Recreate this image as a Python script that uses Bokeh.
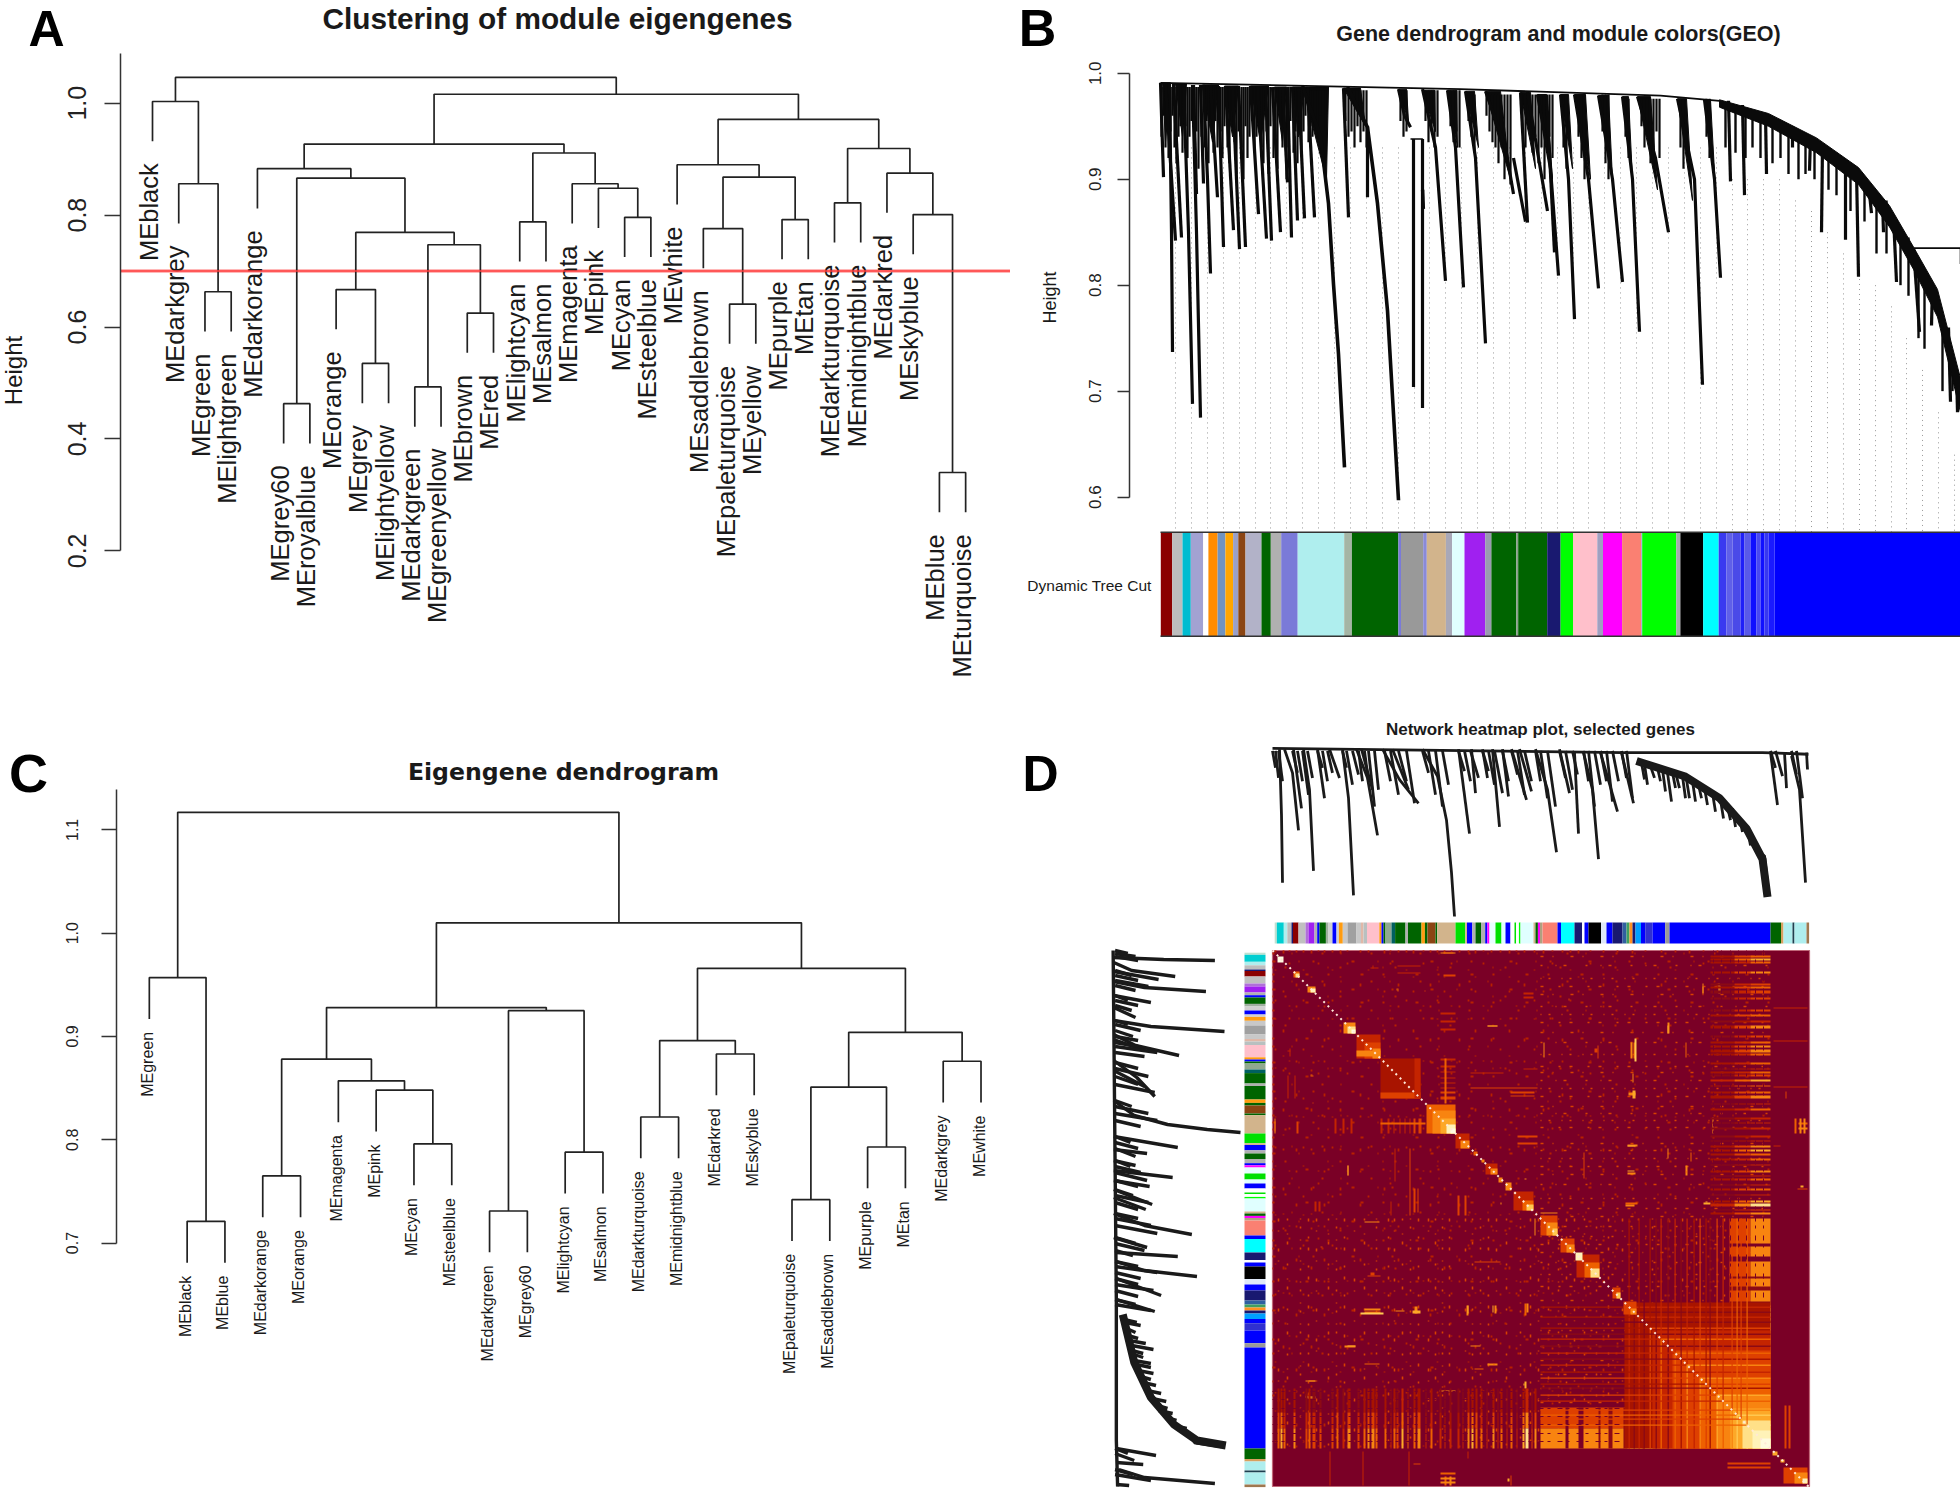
from math import pi
from bokeh.plotting import figure
from bokeh.layouts import row, column
from bokeh.models import LinearAxis, FixedTicker, Label, ColumnDataSource, Range1d, NumeralTickFormatter
from bokeh.core.properties import value
from bokeh.transform import linear_cmap
from bokeh.embed import file_html
from bokeh.resources import INLINE

FONT = "Liberation Sans"

# ---------- Panel A ----------
a_leaves = ["MEblack","MEdarkgrey","MEgreen","MElightgreen","MEdarkorange","MEgrey60","MEroyalblue","MEorange",
            "MEgrey","MElightyellow","MEdarkgreen","MEgreenyellow","MEbrown","MEred","MElightcyan","MEsalmon",
            "MEmagenta","MEpink","MEcyan","MEsteelblue","MEwhite","MEsaddlebrown","MEpaleturquoise","MEyellow",
            "MEpurple","MEtan","MEdarkturquoise","MEmidnightblue","MEdarkred","MEskyblue","MEblue","MEturquoise"]
a_left   = [-31,-6,-11,-9,-13,-23,-3,-8,3,8,-22,-15,-25,-19,-30,-27,-18,-2,-17,2,11,-29,-5,-21,12,16,23,24,-1,27,29]
a_right  = [-32,-7,-12,-10,-14,-24,-4,4,5,9,6,-16,-26,-20,1,-28,14,7,17,10,13,15,20,21,19,22,25,26,18,28,30]
a_height = [.340,.463,.493,.535,.625,.641,.663,.667,.747,.769,.776,.788,.792,.796,.801,.822,.848,.856,.856,.866,
            .868,.875,.883,.890,.911,.919,.927,.971,1.003,1.016,1.046]
a_ticks = [0.2,0.4,0.6,0.8,1.0]
a_cut = 0.70

# ---------- Panel C ----------
c_leaves = ["MEgreen","MEblack","MEblue","MEdarkorange","MEorange","MEmagenta","MEpink","MEcyan","MEsteelblue",
            "MEdarkgreen","MEgrey60","MElightcyan","MEsalmon","MEdarkturquoise","MEmidnightblue","MEdarkred",
            "MEskyblue","MEpaleturquoise","MEsaddlebrown","MEpurple","MEtan","MEdarkgrey","MEwhite"]
c_left   = [-2,-10,-18,-4,-12,-20,-8,-14,-7,3,-6,-22,4,-16,8,10,2,13,-1,15,18,19]
c_right  = [-3,-11,-19,-5,-13,-21,-9,-15,7,6,9,-23,11,-17,14,12,5,17,1,16,20,21]
c_height = [.721,.731,.742,.765,.788,.793,.796,.822,.848,.851,.857,.876,.878,.883,.896,.904,.925,.928,.957,.966,1.010,1.117]
c_ticks = [0.7,0.8,0.9,1.0,1.1]

# ---------- Panel B (gene order 0-800, merge height) ----------
b_top_g = [0,100,300,500,559]
b_top_h = [.991,.989,.985,.979,.974]
b_curve_g = [559,608,656,698,729,753,777,800,800,777,753,729,698,656,608,559]
b_curve_h = [.975,.962,.939,.911,.875,.836,.796,.712,.680,.770,.815,.855,.895,.925,.950,.968]
b_mass_g = [[2,10,5],[15,26,22],[42,58,52],[64,78,72],[90,108,100],[114,126,122],[132,144,138],[142,168,166],[183,200,205],[238,246,248],[262,274,275],
            [287,296,297],[305,314,318],[325,340,350],[360,370,375],[377,386,392],[400,408,412],[414,425,430],[438,448,452],[462,468,472],[477,490,497],
            [517,526,532],[544,550,555]]
b_mass_h = [[.991,.991,.935],[.99,.99,.94],[.989,.989,.935],[.988,.988,.94],[.988,.988,.935],[.987,.987,.935],[.987,.987,.94],[.987,.987,.90],[.986,.986,.95],
            [.985,.985,.955],[.984,.984,.945],[.984,.984,.93],[.983,.983,.93],[.983,.983,.90],[.982,.982,.91],[.98,.98,.90],[.98,.98,.91],[.98,.98,.90],
            [.979,.979,.90],[.978,.978,.90],[.978,.978,.89],[.976,.976,.88],[.975,.975,.89]]
b_branch_g = [[0,3],[9,11,12],[5,15],[13,21],[23,28,32],[32,36,40],[33,36],[40,43],[43,47,50],[50,57],[58,63],[65,73],
  [72,79],[78,85],[90,98],[97,106],[105,111],[112,120],[122,127],[127,131],[132,137],[138,144],[147,154],
  [183,188],[207,207],[238,244,250],[253,253],[262,262],[262,263],[262,275,285],[287,295,303],[305,315,325],
  [325,345,353],[353,365],[360,367],[367,387],[377,390,398],[386,394],[400,408,414],[414,428,438],[438,452,462],
  [462,472,479],[477,495,508],[517,534,542],[544,554,560],[568,570],[582,584],[605,606],[632,632],[650,649],
  [662,661],[685,685],[696,698],[708,711],[722,723],[733,736],[753,759],[772,771],[788,790],[796,797]]
b_branch_h = [[.991,.902],[.990,.85,.737],[.990,.842],[.990,.845],[.989,.85,.688],[.989,.85,.675],[.989,.886],[.989,.896],[.989,.90,.811],
  [.989,.883],[.988,.836],[.988,.852],[.988,.834],[.988,.836],[.988,.867],[.988,.844],[.987,.842],[.987,.850],
  [.987,.897],[.987,.845],[.987,.861],[.986,.863],[.986,.864],
  [.986,.864],[.95,.883],[.985,.96,.949],[.938,.704],[.938,.684],[.89,.872],[.985,.93,.804],[.984,.93,.798],[.983,.92,.745],
  [.983,.93,.886],[.92,.860],[.982,.859],[.982,.87],[.98,.91,.809],[.98,.831],[.98,.90,.768],[.98,.90,.797],[.979,.90,.803],
  [.978,.90,.756],[.978,.92,.850],[.976,.90,.706],[.975,.90,.807],[.974,.898],[.97,.885],[.962,.905],[.95,.930],[.94,.908],
  [.932,.850],[.915,.843],[.908,.808],[.895,.868],[.88,.850],[.865,.803],[.835,.756],[.80,.762],[.76,.690],[.72,.680]]
b_main_g = [[142,160,168,173,178,184],[187,207,217,227,238]]
b_main_h = [[.988,.94,.877,.801,.735,.628],[.987,.949,.877,.776,.597]]
b_box_g = [[250,253,262,262],[753,800,800],[262,263,263]]
b_box_h = [[.938,.938,.938,.89],[.835,.835,.82],[.89,.89,.872]]
b_stub_g = [1,3,5,7,8,10,12,14,16,18,20,22,25,27,29,31,34,36,38,41,44,46,48,51,53,55,57,60,62,64,67,69,71,74,76,78,81,83,85,
            87,89,92,94,96,99,101,103,106,108,110,113,115,117,120,122,124,126,128,130,133,135,137,139,141,143,145,148,150,152,
            155,157,160,163,165,185,188,191,194,197,200,203,206,240,243,246,265,268,271,274,277,290,293,296,299,308,311,314,
            326,329,332,335,338,341,344,347,350,362,365,369,372,375,378,381,384,389,392,403,406,418,421,424,442,445,448,465,468,
            481,484,487,490,493,496,499,520,523,546,549]
b_stub_h = [.94,.96,.93,.955,.92,.945,.96,.93,.915,.94,.95,.925,.95,.92,.94,.955,.925,.945,.91,.94,.93,.955,.915,.945,.925,.955,.93,
            .945,.92,.95,.93,.915,.95,.935,.905,.945,.93,.90,.95,.92,.94,.955,.925,.94,.96,.93,.915,.945,.905,.95,.92,.94,.91,.955,.93,
            .945,.90,.93,.955,.925,.945,.915,.95,.93,.945,.96,.935,.95,.94,.955,.94,.96,.945,.93,.955,.94,.945,.93,.95,.935,.945,.93,
            .955,.94,.945,.955,.935,.945,.93,.94,.95,.935,.945,.93,.955,.94,.925,.96,.945,.935,.93,.915,.93,.90,.915,.895,.945,.93,.95,.925,.94,.915,.93,.90,.94,.92,.93,.91,
            .94,.92,.90,.945,.915,.90,.94,.92,.95,.93,.94,.915,.93,.945,.92,.93,.91,.94,.92]
b_right_stub_g = [565,575,585,592,600,612,620,628,638,645,654,668,676,690,704,716,726,740,748,758,764,782,792]
b_right_stub_h = [.93,.925,.92,.93,.92,.915,.92,.905,.90,.905,.90,.89,.885,.87,.86,.83,.83,.80,.79,.75,.74,.70,.70]
b_right_stub_top = [.97,.967,.965,.963,.96,.957,.953,.95,.944,.94,.935,.93,.925,.915,.90,.885,.88,.855,.845,.825,.81,.76,.73]
b_guide_g = [15,31,47,63,79,95,110,126,142,158,174,190,206,222,238,254,269,285,301,317,333,349,365,381,397,413,428,444,460,476,492,
             508,524,540,556,572,587,603,619,635,651,667,683,699,715,731,746,762,778,794]
b_guide_top = [.93]*35 + [.90,.90,.90,.90,.88,.87,.85,.83,.82,.80,.78,.75,.72,.68,.64]
b_mod_right = [.3,11.7,22,30.3,42.7,47.9,57.1,64.9,72.6,77.8,85,101,110.3,120.7,137.2,183.7,191.4,237.9,240.5,262.7,266.3,285.4,291.6,
               304,324.7,330.9,355.7,357.7,386.7,400.1,412.5,436.8,442.5,461.6,480.7,481.7,515.8,519.9,542.7,558.2,566,572,580,584,590,
               596,600,604,608,614,800]
b_mod_color = ["#ffffff","#8b0000","#bdbdbd","#00bcd0","#a2a2d2","#ffffff","#ff8c00","#6f93c0","#ffa500","#9aa0c8","#8b4513","#b2b2c8",
               "#006400","#b0b0b0","#7a7ad8","#afeeee","#a5b5a5","#006400","#7a7ad8","#999999","#8a8ad8","#d2b48c","#a8a8b8","#e0ffff",
               "#a020f0","#9a9ab0","#006400","#8aa08a","#006400","#191970","#00ff00","#ffc0cb","#a0a0c0","#ff00ff","#fa8072","#a0a0d0",
               "#00ff00","#a8a8b0","#000000","#00ffff","#3a3af0","#6060e8","#4a4ae8","#2020f8","#5a5ae8","#1010ff","#4a4af0","#1010ff",
               "#3838f0","#1a1aff","#0000ff"]
b_ticks = [0.6,0.7,0.8,0.9,1.0]

# ---------- Panel D: tree (gene row, fractional depth), modules, heatmap ----------
d_spine_r = [0,350,490,536]
d_spine_d = [.005,.03,.03,.04]
d_branch_r = [[7,9,10],[12,20,26],[21,29],[31,37,41],[45,52],[57,67],[70,76,81],[84,95,105],[89,100],[110,127,146],[120,136],
              [150,165,174,179,182],[186,197],[199,203],[210,215],[220,227],[230,236],[239,254],[247,259],[263,275,284],[287,297],
              [302,306],[311,320,326],[328,345],[349,361],[369,372],[378,382],[395,399],[404,407],[414,417],
              [426,429],[448,451],[455,458],[467,470],[486,492,496],[498,505],[512,514],[519,527,533],[534,535],
              [372,375],[385,388],[390,393],[400,403],[410,413],[420,423],[432,435],[440,443],[460,463],[475,478]]
d_branch_d = [[.01,.40,.80],[.01,.15,.49],[.01,.36],[.01,.25,.73],[.01,.30],[.01,.18],[.01,.30,.875],[.01,.18,.52],[.01,.25],[.01,.19,.33],[.01,.25],
              [.01,.17,.43,.74,1.0],[.01,.51],[.01,.27],[.01,.18],[.01,.47],[.01,.29],[.01,.31],[.01,.26],[.01,.25,.62],[.01,.27],
              [.03,.51],[.03,.25,.66],[.03,.38],[.03,.33],[.09,.19],[.11,.18],[.15,.32],[.17,.24],[.19,.30],
              [.22,.30],[.31,.42],[.35,.43],[.42,.50],[.64,.64,.85],[.03,.34],[.03,.24],[.05,.25,.80],[.03,.13],
              [.10,.22],[.12,.20],[.13,.26],[.15,.24],[.17,.30],[.20,.32],[.24,.34],[.27,.38],[.36,.47],[.48,.58]]
d_main_r = [364,412,447,474,490,495]
d_main_d = [.08,.17,.30,.48,.66,.885]
# short side branches: top row, foot row, depth of the foot
d_side_r0 = [0,3,6,20,25,30,35,45,50,55,70,74,80,86,92,96,102,112,118,126,134,150,156,163,170,186,192,198,210,216,222,230,239,245,252,263,268,275,287,293,300,311,316,322,328,334,340,349,354,498,503,519,524]
d_side_r1 = [3,6,10,25,30,36,40,50,55,60,74,80,86,90,96,102,106,118,126,134,142,156,163,170,176,192,198,206,216,222,230,236,245,252,259,268,275,283,293,300,305,316,322,328,334,340,346,354,360,503,510,524,530]
d_side_d  = [.12,.18,.2,.15,.2,.28,.18,.12,.2,.15,.12,.22,.16,.2,.2,.35,.25,.2,.28,.2,.33,.15,.28,.35,.22,.14,.2,.18,.14,.22,.27,.2,.16,.28,.2,.2,.3,.35,.18,.25,.16,.2,.35,.22,.2,.32,.2,.18,.3,.12,.17,.16,.3]
d_mod_right = [2.2,4.3,11.3,14.8,19,20.5,26,33,36,42,44.7,47,53.4,56,60,64,66.4,70.3,75,84,88.5,91,94.5,106.8,109,111,113,119,122.6,133,135.5,
               149,152.4,155,163,164.7,183,192.7,194.5,199.8,203,208.5,212.7,214.8,217,223,229,233,238,242,243.6,246.4,248,261,263,265.4,267.5,270,
               285,288.5,302,309.6,312,316,328.5,334,340,350,354,357,360,363,368.5,372.7,380,392.7,397,498,508.5,511,520,522,534,536.6]
d_mod_color = ["#ffffff","#bfe0d0","#00ced1","#afeeee","#bdbdbd","#191970","#8b0000","#c0c0c0","#b070d8","#a020f0","#b0b0b0","#0000ff","#006400","#a0b0a0",
               "#d0d0d0","#0000ff","#d0d0d0","#ff9c10","#c8c8c8","#a0a0a0","#c8c8c8","#e0b8a8","#b8c0c0","#ffc0cb","#ff9c10","#0000ff","#006400","#90a890","#006060",
               "#006400","#b0b0b0","#006400","#ff9c10","#006400","#8b4513","#006400","#d2b48c","#00e000","#d2b48c","#0000ff","#b0b0b0","#006400","#b0b0b0","#0000ff",
               "#ff00ff","#e8ffff","#00e000","#e0ffff","#0000ff","#ffffff","#00e000","#ffffff","#00ff00","#e0ffff","#d2b48c","#006400","#ff00ff","#b0a080",
               "#fa8072","#0000ff","#00ffff","#191970","#ffffff","#0000ff","#000000","#dfe8f8","#0000ff","#191970","#3060a0","#40a060","#ff9020","#191970","#00a0ff",
               "#0000ff","#3030d0","#0000ff","#999999","#0000ff","#006400","#d8a060","#afeeee","#204050","#afeeee","#a07850"]

heat_diag = [(5,11,6,12,.92),(21,27,21,27,.45),(23,27,23,27,.75),(35,43,36,42,.5),(38,43,38,42,.85),(71,83,72,83,.5),(75,83,76,83,.78),(79,83,79,83,.92),
  (84,108,84,108,.28),(92,108,92,108,.36),(100,108,98,108,.5),(84,108,100,106,.58),(108,148,108,148,.17),(125,148,125,148,.22),(108,148,142,148,.36),(142,148,108,148,.32),
  (154,183,154,183,.45),(160,183,160,183,.54),(168,183,168,183,.65),(174,183,174,183,.85),(178,183,178,183,.97),(183,197,183,198,.3),(188,197,190,198,.5),
  (201,205,201,205,.45),(209,212,209,212,.5),(213,225,213,224,.32),(218,225,218,224,.5),(226,230,227,232,.55),(233,239,232,240,.55),
  (241,261,241,260,.3),(250,261,250,260,.45),(254,261,254,260,.7),(268,285,265,285,.38),(274,285,272,285,.55),(280,285,278,285,.72),
  (288,302,288,302,.35),(294,302,294,302,.5),(304,327,304,327,.3),(312,327,312,327,.45),(318,327,318,327,.78),(303,310,302,310,.85),
  (340,348,337,348,.38),(344,348,342,348,.7),(351,364,351,364,.4),(358,364,358,364,.55),
  (511,535,517,533,.4),(522,535,522,533,.58),(530,535,528,533,.88),(500,505,501,505,.6),(508,512,509,512,.6)]
heat_square = [(352,498,352,498,.19),(380,498,380,498,.26),(400,498,400,498,.36),(428,498,428,498,.46),(445,498,445,498,.56),(458,498,458,498,.66),(470,498,470,498,.8),(480,498,480,498,.9),(488,498,488,498,.98)]
heat_band = [(5,7,.55),(8,10,.7),(11,13,.5),(21,23,.65),(33,35,.4),(36,38,.55),(40,43,.45),(47,49,.45),(59,61,.45),(64,66,.55),(70,72,.3),(75,78,.65),(85,87,.4),
  (91,93,.5),(95,97,.6),(99,102,.65),(103,105,.5),(112,114,.5),(118,119,.35),(121,123,.5),(124,126,.45),(129,131,.75),(135,136,.55),(141,143,.55),(145,148,.6),
  (153,154,.3),(158,160,.5),(167,169,.35),(172,173,.3),(177,179,.3),(185,187,.35),(190,191,.3),(195,197,.6),(199,201,.7),(203,205,.55),(208,210,.5),(214,215,.35),
  (220,222,.65),(225,226,.35),(228,230,.5),(234,235,.3),(238,240,.55),(244,245,.3),(250,252,.7),(253,256,.9),(259,260,.45),(262,264,.6)]
heat_strip = [(268,498,457,478,.36),(352,498,457,478,.48),(268,498,478,498,.5),(352,498,478,498,.7)]
heat_gap = [(293,296,457,498,.08),(306,311,457,498,.04),(326,328,457,498,.12),(336,340,457,498,.1),(351,355,457,498,.15),(370,372,457,498,.22),(394,396,457,498,.3)]
heat_plaid = [(356,.33),(361,.12),(366,.33),(371,.1),(377,.36),(383,.16),(388,.42),(395,.14),(402,.48),(408,.24),(414,.52),(421,.28),(427,.56),(433,.36),(437,.24),
              (444,.62),(450,.42),(459,.58),(464,.74),(468,.6),(474,.8)]
heat_spot = [(168,183,121,122,.3),(168,183,127,128,.3),(168,183,132,133,.32),(168,183,137,138,.3),(168,183,108,110,.3),(168,183,115,117,.28),(168,183,141,143,.35),(168,183,146,149,.35),(172,174,108,153,.42),
  (215,225,75,76,.45),(171,183,24,26,.35),(98,106,17,18,.3),(125,148,15,16,.3),(125,148,22,23,.3),(124,125,38,40,.45),(171,181,2,3,.4),(168,183,62,64,.3),(168,183,70,72,.32),(168,183,78,80,.3),
  (198,231,122,123,.3),(198,265,137,138,.35),(215,225,75,76,.6),(238,262,141,143,.4),(238,262,145,146,.35),(228,229,252,254,.5),(251,261,42,44,.3),(251,261,46,48,.3),(251,265,118,119,.3),(245,265,185,187,.35),(245,265,192,194,.35),
  (100,101,15,18,.3),(168,183,2,3,.5),(125,126,38,41,.45),(152,153,40,41,.4),(271,272,92,107,.5),(322,325,98,102,.4),(358,360,92,108,.5),(361,363,92,108,.42),(360,361,123,132,.55),
  (356,363,142,145,.55),(395,397,72,83,.55),(296,297,48,50,.4),(430,431,33,43,.55),(446,447,33,43,.6),(413,414,92,107,.45),(440,441,167,183,.55),(526,535,172,174,.45),(526,535,177,179,.5),(355,365,194,196,.55),
  (355,363,222,224,.55),(413,415,215,225,.55),(395,396,198,208,.5),(311,312,202,228,.4),(353,365,252,254,.45),(431,438,252,254,.6),(268,285,262,263,.5),
  (501,535,57,58,.3),(501,535,90,91,.3),(501,535,136,137,.3),(501,508,195,196,.3),(525,535,238,239,.4),(455,498,512,514,.4),(455,498,516,518,.35),(168,183,522,524,.45),(168,183,527,529,.5),(168,183,531,533,.55),(235,237,528,531,.6),(141,148,513,514,.4),
  (88,111,362,364,.7),(140,148,360,363,.6),(195,196,355,363,.6),(220,221,355,362,.6),(254,256,353,362,.55),(75,83,395,396,.6),(95,108,325,326,.4),(202,211,418,419,.45),(221,222,413,414,.4),
  (36,43,430,431,.55),(35,43,447,448,.5),(251,252,433,435,.6)]
heat_tex_row = [3,11,17,24,31,39,46,52,60,68,75,88,96,112,118,126,134,141,151,158,165,172,179,187,196,203,211,219,228,237,244,252,262,271,280,290,298,306,318,331,345,360,373,389,403,417,431,445]
heat_tex_dash = ["2 17 1 29","3 23 1 13 2 37","1 11 2 41","2 31 3 19"]
heat_tex2_row = [6,15,28,36,44,56,64,72,82,92,104,116,122,130,138,146,156,163,170,177,193,200,208,216,224,234,248,258,266,276,286,294,302,312,324,336,350,366,380,396,410,424,438,452]
heat_tex2_dash = ["3 9 1 17","2 13 1 7 3 19","1 7 2 11","3 15 2 9"]
heat_band_col = [441,449,458,466,474,483,491]
heat_palette = ["#7a0026","#8c0a14","#a81400","#c42400","#de4000","#ee6000","#f88410","#fda828","#ffc850","#ffe088","#fff2b8","#fffbe0"]


def dendro(left, right, height, hang):
    mx, mh, xs, ys = {}, {}, [], []
    lx, ly = [], []
    def node(k, h):
        if k < 0:
            lx.append(-k); ly.append(h - hang)
            return -k, h - hang
        return mx[k], mh[k]
    for i, (a, b, h) in enumerate(zip(left, right, height), 1):
        xa, ya = node(a, h); xb, yb = node(b, h)
        xs.append([xa, xa, xb, xb]); ys.append([ya, h, h, yb])
        mx[i] = (xa + xb) / 2; mh[i] = h
    return xs, ys, lx, ly


def make(w, h, xr, yr):
    p = figure(width=w, height=h, x_range=Range1d(*xr), y_range=Range1d(*yr), toolbar_location=None, output_backend="svg",
               x_axis_location=None, y_axis_location=None, min_border_left=0, min_border_right=0,
               min_border_top=0, min_border_bottom=0, outline_line_color=None, background_fill_color="white", frame_align=False)
    p.grid.visible = False
    return p


def yaxis(p, at, ticks, top, tick_len, size, standoff):
    ax = LinearAxis(ticker=FixedTicker(ticks=ticks), bounds=(ticks[0], top), major_label_orientation="vertical",
                    formatter=NumeralTickFormatter(format="0.0"), fixed_location=at)
    ax.major_tick_out = tick_len; ax.major_tick_in = 0; ax.minor_tick_out = 0; ax.minor_tick_in = 0
    ax.major_label_text_font = FONT; ax.major_label_text_font_size = size; ax.major_label_text_color = "#222222"
    ax.major_label_standoff = standoff; ax.axis_line_color = "#333333"; ax.axis_line_width = 1.5
    ax.major_tick_line_color = "#333333"; ax.major_tick_line_width = 1.5
    p.add_layout(ax, "left")


def label(p, box, x, y, text, size, bold=False, angle=0, font=FONT, color="#1a1a1a"):
    p.add_layout(Label(x=x - box[0], y=box[1] - y, x_units="screen", y_units="screen", text=text, text_font=font,
                       text_font_size=f"{size}px", text_font_style="bold" if bold else "normal", text_color=color,
                       text_align="center", text_baseline="middle", angle=angle))


def draw_tree(p, leaves, left, right, height, hang, lw, size, dx, dy, color="#222222"):
    xs, ys, lx, ly = dendro(left, right, height, hang)
    p.multi_line(xs, ys, line_color=color, line_width=lw)
    src = ColumnDataSource(dict(x=lx, y=ly, t=[leaves[i - 1] for i in lx]))
    p.text("x", "y", "t", source=src, angle=pi / 2, text_align="right", text_baseline="middle", x_offset=dx, y_offset=dy,
           text_font=value(FONT), text_font_size=size, text_color="#1a1a1a")


# ----- A -----
A = make(1010, 730, (-4.795, 33.71), (-0.121, 1.1835))
A.line([-0.22, 33.71], [a_cut, a_cut], line_color="#ffb8b8", line_width=4)
draw_tree(A, a_leaves, a_left, a_right, a_height, 0.071, 1.7, "25.5px", -4, 22)
A.line([-0.22, 33.71], [a_cut, a_cut], line_color="#ff3838", line_width=1.6)
yaxis(A, -0.22, a_ticks, 1.089, 16, "25px", 18)
boxA = (0, 730)
label(A, boxA, 557, 17.5, "Clustering of module eigengenes", 29.8, True)
label(A, boxA, 13, 370, "Height", 24, angle=pi / 2)
label(A, boxA, 46, 28, "A", 50, True, color="#000000")

# ----- C -----
C = make(1010, 759, (-2.937, 23.78), (0.4614, 1.1962))
draw_tree(C, c_leaves, c_left, c_right, c_height, 0.040, 1.7, "16px", -2, 13)
yaxis(C, 0.132, c_ticks, 1.139, 15, "16px", 24)
boxC = (0, 1489)
label(C, boxC, 563, 771, "Eigengene dendrogram", 23.6, True, font="DejaVu Sans")
label(C, boxC, 28, 772, "C", 54, True, color="#000000")

# ----- B -----
B = make(950, 700, (-150, 800), (0.408, 1.0687))
B.multi_line([[g, g] for g in b_guide_g], [[t, 0.567] for t in b_guide_top], line_color="#999999", line_width=1, line_dash="1 4")
bl = [0] + b_mod_right[:-1]
B.quad(left=bl, right=b_mod_right, top=0.5668, bottom=0.4687, fill_color=b_mod_color, line_color=None)
B.multi_line([[0, 800], [0, 800]], [[.5668, .5668], [.4687, .4687]], line_color="#333333", line_width=1.5)
B.patches(b_mass_g, b_mass_h, fill_color="#0a0a0a", line_color="#0a0a0a", line_width=1)
stub_top = [.987 if g < 150 else .984 if g < 300 else .98 if g < 450 else .976 for g in b_stub_g]
B.multi_line([[g, g] for g in b_stub_g], [[t, h] for t, h in zip(stub_top, b_stub_h)], line_color="#0a0a0a", line_width=2.2)
B.multi_line([[g, g] for g in b_right_stub_g], [[t, h] for t, h in zip(b_right_stub_top, b_right_stub_h)], line_color="#0a0a0a", line_width=2.4)
B.multi_line(b_branch_g, b_branch_h, line_color="#0a0a0a", line_width=3.2)
B.multi_line(b_main_g, b_main_h, line_color="#0a0a0a", line_width=3.6)
B.multi_line(b_box_g, b_box_h, line_color="#0a0a0a", line_width=1.6)
B.line(b_top_g, b_top_h, line_color="#0a0a0a", line_width=1.8)
B.patch(b_curve_g, b_curve_h, fill_color="#0a0a0a", line_color="#0a0a0a", line_width=1)
yaxis(B, -31, b_ticks, 1.0, 12, "17px", 16)
boxB = (1010, 700)
label(B, boxB, 1558, 33, "Gene dendrogram and module colors(GEO)", 21.5, True)
label(B, boxB, 1049, 297, "Height", 18, angle=pi / 2)
label(B, boxB, 1089, 585, "Dynamic Tree Cut", 15.5)
label(B, boxB, 1037, 27, "B", 52, True, color="#000000")

# ----- D -----
D = make(950, 789, (-262, 688), (539, -250))
rects = []
for (g0, g1, r0, r1, lv) in heat_spot:
    rects += [(g0, g1, r0, r1, lv), (r0, r1, g0, g1, lv)]
for (r0, r1, lv) in heat_band:
    lv = lv * .85
    rects += [(438, 462, r0, r1, lv * .42), (r0, r1, 438, 462, lv * .42), (462, 478, r0, r1, lv * .75), (r0, r1, 462, 478, lv * .75),
              (478, 498, r0, r1, lv), (r0, r1, 478, 498, lv)]
for (g0, g1, r0, r1, lv) in heat_strip:
    rects += [(g0, g1, r0, r1, lv), (r0, r1, g0, g1, lv)]
for (g0, g1, r0, r1, lv) in heat_gap:
    rects += [(g0, g1, r0, r1, lv), (r0, r1, g0, g1, lv)]
rects += heat_square
for (pos, lv) in heat_plaid:
    rects += [(pos, 498, pos, pos + 1.4, lv), (pos, pos + 1.4, pos, 498, lv), (268, pos, pos, pos + 1.2, lv * .6), (pos, pos + 1.2, 268, pos, lv * .6)]
rects += heat_diag
hs = ColumnDataSource(dict(l=[r[0] for r in rects], r=[r[1] for r in rects], t=[r[2] for r in rects], b=[r[3] for r in rects], v=[r[4] for r in rects]))
cm = linear_cmap("v", heat_palette, 0, 1)
D.quad(left=[0], right=[537], top=[0], bottom=[536], fill_color=heat_palette[0], line_color="#c06878", line_width=1.2)
for k in range(4):
    rows = heat_tex_row[k::4]
    D.multi_line([[0, 498]] * len(rows), [[r, r] for r in rows], line_color="#b82000", line_width=1.8, line_dash=heat_tex_dash[k])
    D.multi_line([[r, r] for r in rows], [[0, 498]] * len(rows), line_color="#b82000", line_width=1.8, line_dash=heat_tex_dash[k])
    rows2 = heat_tex2_row[k::4]
    D.multi_line([[268, 498]] * len(rows2), [[r, r] for r in rows2], line_color="#d84000", line_width=1.6, line_dash=heat_tex2_dash[k])
    D.multi_line([[r, r] for r in rows2], [[268, 498]] * len(rows2), line_color="#d84000", line_width=1.6, line_dash=heat_tex2_dash[k])
D.quad(left="l", right="r", top="t", bottom="b", source=hs, fill_color=cm, line_color=None)
D.multi_line([[g, g] for g in heat_band_col], [[0, 350]] * len(heat_band_col), line_color=heat_palette[0], line_width=1, line_dash="5 4 3 7")
D.multi_line([[0, 350]] * len(heat_band_col), [[g, g] for g in heat_band_col], line_color=heat_palette[0], line_width=1, line_dash="5 4 3 7")
D.line([0, 537], [0, 537], line_color="#ffe8d8", line_width=2, line_dash="2 4")

dl = [0] + d_mod_right[:-1]
D.quad(left=dl, right=d_mod_right, top=-28, bottom=-7, fill_color=d_mod_color, line_color=None)
D.quad(left=-28, right=-7, top=dl, bottom=d_mod_right, fill_color=d_mod_color, line_color=None)

top_origin, top_span = -203, 169
left_origin, left_span = -160, 128
branches_r = d_branch_r + [[a, b] for a, b in zip(d_side_r0, d_side_r1)] + [d_spine_r]
branches_d = d_branch_d + [[.02, d] for d in d_side_d] + [d_spine_d]
D.multi_line(branches_r, [[top_origin + d * top_span for d in ds] for ds in branches_d], line_color="#1a1a1a", line_width=2.8)
D.multi_line([[left_origin + d * left_span for d in ds] for ds in branches_d], branches_r, line_color="#1a1a1a", line_width=3.4)
D.line(d_main_r, [top_origin + d * top_span for d in d_main_d], line_color="#1a1a1a", line_width=8)
D.line([left_origin + d * left_span for d in d_main_d], d_main_r, line_color="#1a1a1a", line_width=8)
boxD = (1010, 1489)
label(D, boxD, 1540, 729, "Network heatmap plot, selected genes", 17, True)
label(D, boxD, 1040, 773, "D", 50, True, color="#000000")

page = row(column(A, C), column(B, D))
open("out.html", "w").write(file_html(page, INLINE))
